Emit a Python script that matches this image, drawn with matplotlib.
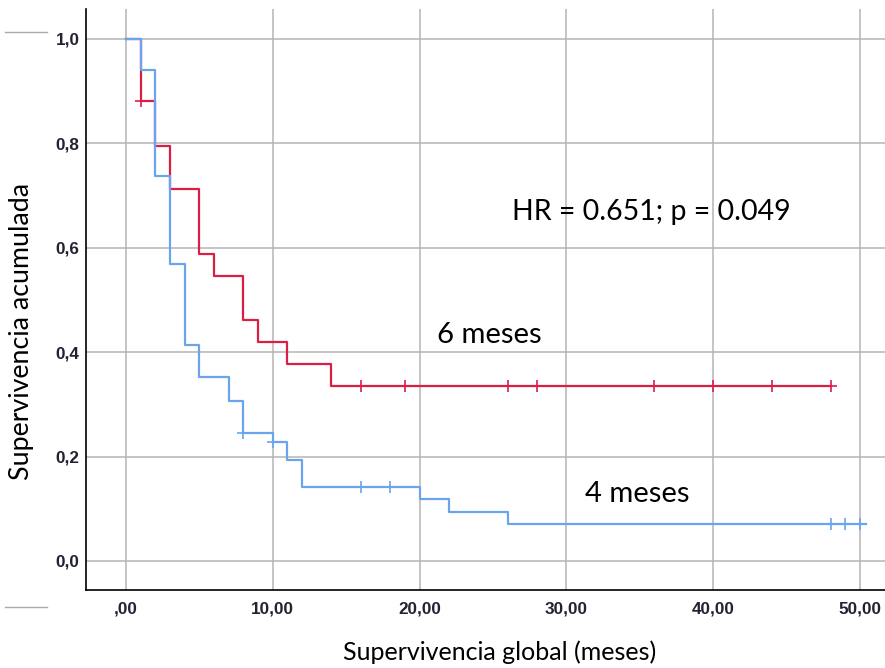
import matplotlib
matplotlib.use('Agg')
import matplotlib.pyplot as plt
from matplotlib.lines import Line2D

# Kaplan-Meier curves
t_6m = [0, 1, 2, 3, 5, 6, 8, 9, 11, 14, 48]
s_6m = [1.0, 0.88, 0.795, 0.712, 0.587, 0.545, 0.462, 0.42, 0.377, 0.335, 0.335]
cens_t_6m = [1, 16, 19, 26, 28, 36, 40, 44, 48]
cens_s_6m = [0.88, 0.335, 0.335, 0.335, 0.335, 0.335, 0.335, 0.335, 0.335]

t_4m = [0, 1, 2, 3, 4, 5, 7, 8, 10, 11, 12, 20, 22, 26, 50.4]
s_4m = [1.0, 0.94, 0.738, 0.568, 0.414, 0.353, 0.307, 0.246, 0.227, 0.194,
        0.142, 0.118, 0.094, 0.070, 0.070]
cens_t_4m = [8, 10, 16, 18, 48, 49, 50]
cens_s_4m = [0.246, 0.227, 0.142, 0.142, 0.070, 0.070, 0.070]

xticks = [0, 10, 20, 30, 40, 50]
xtick_labels = [',00', '10,00', '20,00', '30,00', '40,00', '50,00']
yticks = [0.0, 0.2, 0.4, 0.6, 0.8, 1.0]
ytick_labels = ['0,0', '0,2', '0,4', '0,6', '0,8', '1,0']

red = '#DC1E46'
blue = '#6AA4EC'
txt_font = ['Lato', 'DejaVu Sans']

fig = plt.figure(figsize=(8.85, 6.68), dpi=100)
ax = fig.add_axes([86 / 885, 1 - 590 / 668, 1 - 86 / 885, (590 - 9) / 668])

ax.step(t_6m, s_6m, where='post', color=red, lw=1.6, zorder=3)
ax.plot(cens_t_6m, cens_s_6m, ls='none', marker='+', ms=8, mew=1.2, color=red, zorder=4)
ax.step(t_4m, s_4m, where='post', color=blue, lw=1.6, zorder=3)
ax.plot(cens_t_4m, cens_s_4m, ls='none', marker='+', ms=8, mew=1.2, color=blue, zorder=4)

ax.set_xlim(-2.72, 51.7)
ax.set_ylim(-0.0556, 1.057)
ax.set_xticks(xticks)
ax.set_xticklabels(xtick_labels)
ax.set_yticks(yticks)
ax.set_yticklabels(ytick_labels)
for lab in ax.get_xticklabels() + ax.get_yticklabels():
    lab.set_fontfamily('Liberation Sans')
    lab.set_fontweight('bold')
    lab.set_fontsize(12.3)
    lab.set_color('#222233')
ax.tick_params(axis='both', length=0)
ax.tick_params(axis='y', pad=4.5)
ax.tick_params(axis='x', pad=8)

ax.grid(True, color='#B4B4B4', lw=1.1)
ax.set_axisbelow(True)
for side in ['top', 'right']:
    ax.spines[side].set_visible(False)
for side in ['left', 'bottom']:
    ax.spines[side].set_linewidth(1.2)
    ax.spines[side].set_color('black')

ax.text(26.3, 0.669, 'HR = 0.651; p = 0.049', fontsize=20.5, family=txt_font, va='center', ha='left')
ax.text(21.2, 0.433, '6 meses', fontsize=21, family=txt_font, va='center', ha='left')
ax.text(31.3, 0.128, '4 meses', fontsize=21, family=txt_font, va='center', ha='left')

fig.text(500 / 885, 1 - 652 / 668, 'Supervivencia global (meses)', fontsize=18,
         family=txt_font, ha='center', va='center')
fig.text(22 / 885, 1 - 331 / 668, 'Supervivencia acumulada', fontsize=19.3,
         family=txt_font, ha='center', va='center', rotation=90)

# the two short grey strokes on the left margin
for ypx in [31.5, 607]:
    fig.add_artist(Line2D([5 / 885, 47 / 885], [1 - ypx / 668, 1 - ypx / 668],
                          color='#AAAAAA', lw=1.0))

fig.savefig('out.png', dpi=100)
